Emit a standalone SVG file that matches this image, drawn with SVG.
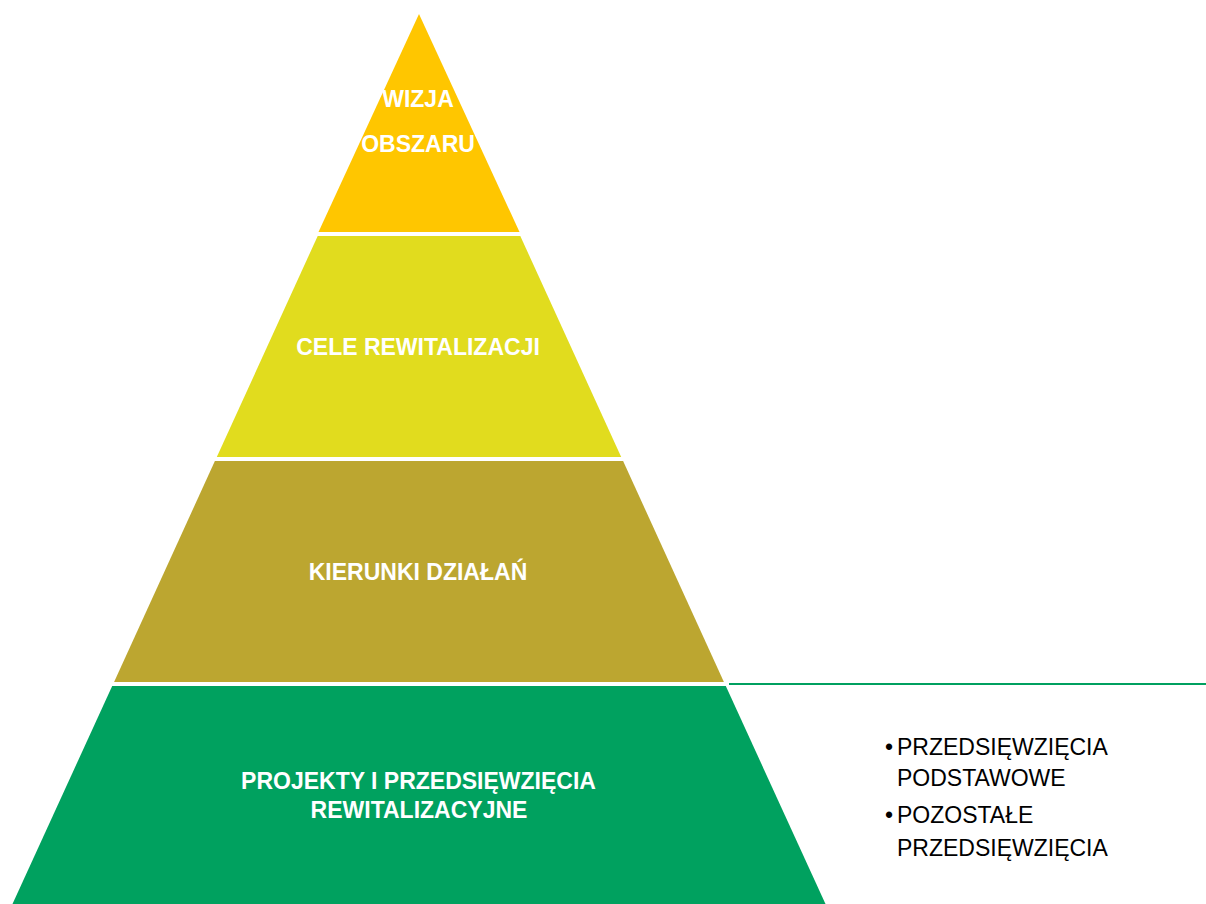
<svg xmlns="http://www.w3.org/2000/svg" width="1206" height="904" viewBox="0 0 1206 904">
<style>
.lbl{font-family:"Liberation Sans",Arial,sans-serif;font-weight:bold;font-size:23px;fill:#ffffff;text-anchor:middle}
.bul{font-family:"Liberation Sans",Arial,sans-serif;font-size:23px;fill:#000000}
</style>
<rect width="1206" height="904" fill="#ffffff"/>
<g id="level1">
<polygon points="419,14 519.5,232 318.5,232" fill="#FFC600"/>
<text class="lbl" x="418" y="107">WIZJA</text>
<text class="lbl" x="418" y="152">OBSZARU</text>
</g>
<g id="level2">
<polygon points="317.7,236 520.3,236 621.2,457 216.8,457" fill="#E1DC1E"/>
<text class="lbl" x="418" y="355">CELE REWITALIZACJI</text>
</g>
<g id="level3">
<polygon points="214.9,461 623.1,461 723.9,682 114.1,682" fill="#BCA630"/>
<text class="lbl" x="418" y="580">KIERUNKI DZIAŁAŃ</text>
</g>
<g id="level4">
<polygon points="112.2,686 725.8,686 825.5,904 12.5,904" fill="#00A15F"/>
<text class="lbl" x="418.5" y="789">PROJEKTY I PRZEDSIĘWZIĘCIA</text>
<text class="lbl" x="419" y="818">REWITALIZACYJNE</text>
</g>
<g id="connectors">
<line x1="729" y1="684" x2="1206" y2="684" stroke="#00A060" stroke-width="2"/>
</g>
<g id="bullets">
<text class="bul" x="885" y="755">•</text>
<text class="bul" x="897" y="755">PRZEDSIĘWZIĘCIA</text>
<text class="bul" x="897" y="786">PODSTAWOWE</text>
<text class="bul" x="885" y="823">•</text>
<text class="bul" x="897" y="823">POZOSTAŁE</text>
<text class="bul" x="897" y="856">PRZEDSIĘWZIĘCIA</text>
</g>
</svg>
